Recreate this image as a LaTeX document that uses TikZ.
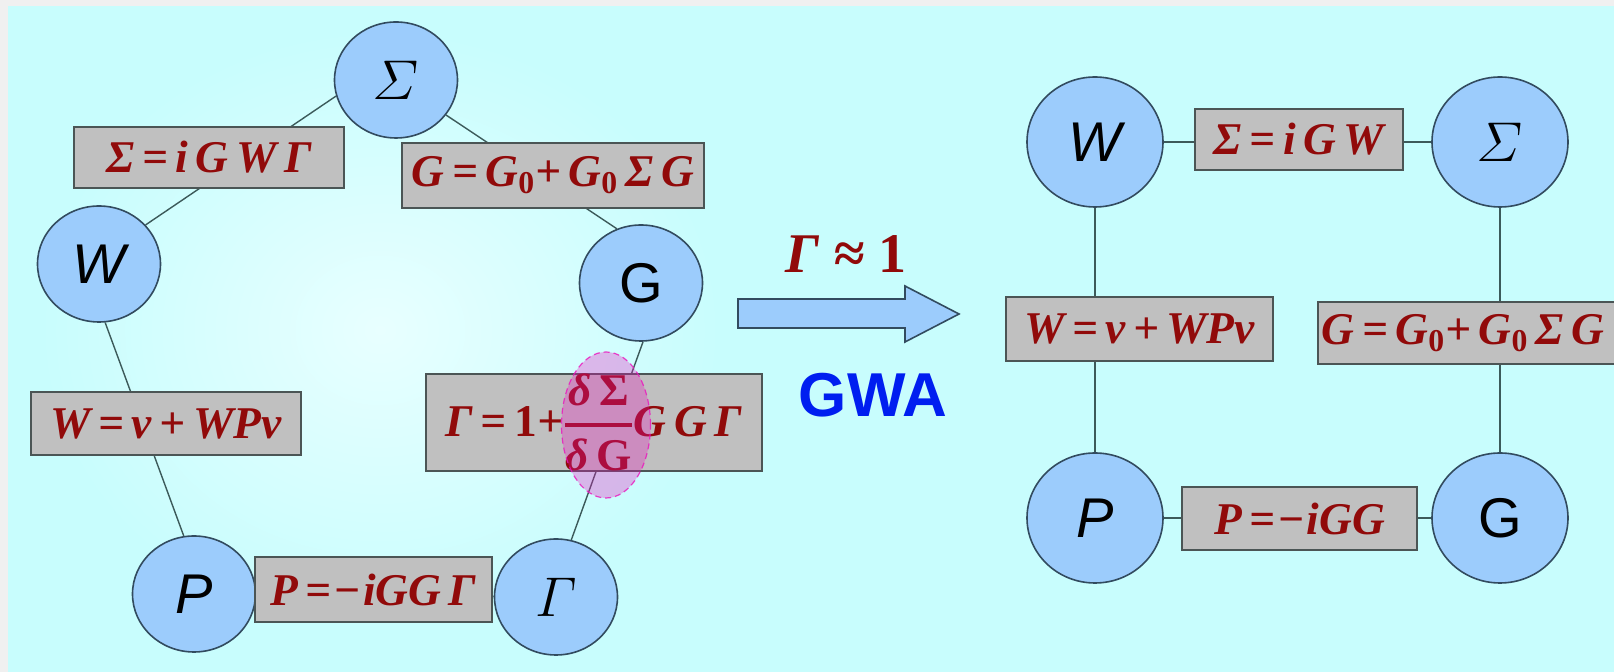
\RequirePackage{fix-cm}
\documentclass[tikz,border=0pt]{standalone}
\usepackage{amsmath}
\usepackage{fontspec}
\setmainfont{Liberation Serif}
\setsansfont{Liberation Sans}
\usetikzlibrary{shapes.geometric,backgrounds}

\definecolor{framegray}{RGB}{240,240,240}
\definecolor{bgcyan}{RGB}{200,253,253}
\definecolor{paleCyan}{RGB}{232,255,255}
\definecolor{nodeblue}{RGB}{156,204,252}
\definecolor{nodeedge}{RGB}{50,75,95}
\definecolor{boxgray}{RGB}{192,192,192}
\definecolor{boxedge}{RGB}{75,85,85}
\definecolor{eqred}{RGB}{145,10,10}
\definecolor{linkgray}{RGB}{60,90,90}
\definecolor{gwablue}{RGB}{0,30,240}
\definecolor{hilitemag}{RGB}{235,20,190}

\newcommand{\eqfont}{\fontsize{22.7}{26}\selectfont\bfseries\itshape}
\newcommand{\symfont}{\fontsize{28}{30}\selectfont}
\newcommand{\nought}{\textsubscript{\upshape 0}}

\tikzset{
  quantity/.style    = {ellipse, draw=nodeedge, fill=nodeblue, line width=0.8pt,
                        inner sep=0pt, minimum width=61.5pt, minimum height=58pt,
                        font=\symfont},
  bigquantity/.style = {quantity, minimum width=68pt, minimum height=65pt},
  eqbox/.style       = {rectangle, draw=boxedge, fill=boxgray, line width=0.8pt,
                        inner sep=0pt, text=eqred, font=\eqfont},
  link/.style        = {line width=0.7pt, draw=linkgray},
  highlight/.style   = {ellipse, draw=hilitemag, densely dashed, line width=0.6pt,
                        fill=hilitemag, fill opacity=0.3, draw opacity=0.8,
                        inner sep=0pt, minimum width=44.5pt, minimum height=73pt},
  fatarrow/.style    = {draw=nodeedge, fill=nodeblue, line width=0.8pt},
}

\begin{document}
\begin{tikzpicture}[x=0.5pt,y=-0.5pt]
  \useasboundingbox (0,0) rectangle (1614,672);
  \clip (0,0) rectangle (1614,672);

  % full cycle
  \node[quantity] (SigL) at (396,80)  {$\varSigma$};
  \node[quantity] (WL)   at (99,264)  {\sffamily\itshape W};
  \node[quantity] (GL)   at (641,283) {\sffamily G};
  \node[quantity] (PL)   at (194,594) {\sffamily\itshape P};
  \node[quantity] (GamL) at (556,597) {$\varGamma$};

  \node[eqbox, minimum width=135pt, minimum height=30.5pt] (sigeq) at (209,157.5) {Σ\,=\,i\,G\,W\,Γ};
  \node[eqbox, minimum width=151pt, minimum height=32.5pt] (geq)   at (553,175.5) {G\,=\,G\nought+\,G\nought\,Σ\,G};
  \node[eqbox, minimum width=135pt, minimum height=31.5pt] (weq)   at (166,423.5) {W\,=\,v\,+\,WPv};
  \node[eqbox, minimum width=168pt, minimum height=47.5pt] (gameq) at (594,422.5)
    {Γ\,=\,{\upshape 1}+$\genfrac{}{}{2pt}{0}{\text{δ\,{\upshape Σ}}}{\text{δ\,{\upshape G}}}$G\,G\,Γ};
  \node[eqbox, minimum width=118.5pt, minimum height=32.5pt] (peq) at (373.5,589.5) {P\,=\kern1pt−\kern1pt iGG\,Γ};
  \node[highlight] (fracmark) at (606,425) {};

  % vertex approximation
  \draw[fatarrow] (738,299) -- (905,299) -- (905,286) -- (959,314)
                  -- (905,342) -- (905,328) -- (738,328) -- cycle;
  \node[font=\fontsize{28}{30}\selectfont\bfseries\itshape, text=eqred] (approx) at (846,254) {Γ ≈ {\upshape 1}};
  \node[font=\fontsize{31}{33}\selectfont\sffamily\bfseries, text=gwablue] (gwa) at (873,395) {GWA};

  % reduced cycle
  \node[bigquantity] (WR)   at (1095,142) {\sffamily\itshape W};
  \node[bigquantity] (SigR) at (1500,142) {$\varSigma$};
  \node[bigquantity] (PR)   at (1095,518) {\sffamily\itshape P};
  \node[bigquantity] (GR)   at (1500,518) {\sffamily G};

  \node[eqbox, minimum width=104pt, minimum height=30.5pt]   (sigeqR) at (1299,139.5)  {Σ\,=\,i\,G\,W};
  \node[eqbox, minimum width=133.5pt, minimum height=32pt]   (weqR)   at (1139.5,329)  {W\,=\,v\,+\,WPv};
  \node[eqbox, anchor=west, text width=163pt, align=left, inner xsep=2pt,
        minimum height=31pt] (geqR) at (1317,333) {G\,=\,G\nought+\,G\nought\,Σ\,G};
  \node[eqbox, minimum width=117.5pt, minimum height=31.5pt] (peqR)   at (1299.5,518.5) {P\,=\kern1pt−\kern1pt iGG};

  \begin{pgfonlayer}{background}
    \fill[framegray] (0,0) rectangle (1614,672);
    \fill[bgcyan] (8,6) rectangle (1614,672);
    \shade[inner color=paleCyan, outer color=bgcyan] (380,330) ellipse [x radius=340, y radius=300];
    \draw[link] (SigL.195) -- (WL.40);
    \draw[link] (SigL.-35) -- (GL.114);
    \draw[link] (WL.-84)   -- (PL.100);
    \draw[link] (GL.-88)   -- (GamL.75);
    \draw[link] (PL)       -- (GamL);
    \draw[link] (WR) -- (SigR);
    \draw[link] (WR) -- (PR);
    \draw[link] (SigR) -- (GR);
    \draw[link] (PR) -- (GR);
  \end{pgfonlayer}
\end{tikzpicture}
\end{document}
